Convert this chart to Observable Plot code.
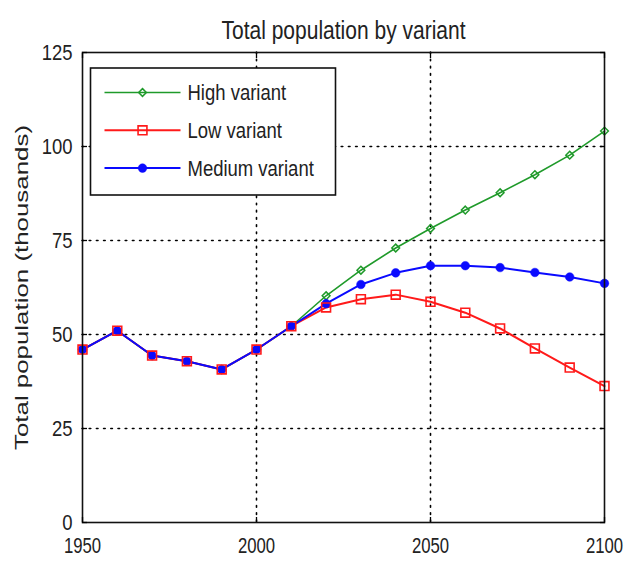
<!DOCTYPE html>
<html>
<head>
<meta charset="utf-8">
<script src="https://cdn.jsdelivr.net/npm/d3@7"></script>
<script src="https://cdn.jsdelivr.net/npm/@observablehq/plot@0.6"></script>
<style>
  html, body { margin: 0; padding: 0; background: #fff; }
</style>
</head>
<body>
<div id="chart"></div>
<script>
// ---- Data ----
const years  = [1950, 1960, 1970, 1980, 1990, 2000, 2010, 2020, 2030, 2040, 2050, 2060, 2070, 2080, 2090, 2100];
const high   = [46, 51, 44.4, 42.9, 40.7, 46, 52.2, 60.3, 67.1, 73.0, 78.2, 83.1, 87.7, 92.5, 97.7, 104.1];
const low    = [46, 51, 44.4, 42.9, 40.7, 46, 52.2, 57.2, 59.4, 60.6, 58.7, 55.8, 51.6, 46.3, 41.2, 36.3];
const medium = [46, 51, 44.4, 42.9, 40.7, 46, 52.2, 58.2, 63.3, 66.4, 68.3, 68.3, 67.8, 66.5, 65.3, 63.6];

const seriesNames = ["High variant", "Low variant", "Medium variant"];
const xTicks = [1950, 2000, 2050, 2100];
const yTicks = [0, 25, 50, 75, 100, 125];
const xGrid = [2000, 2050];
const yGrid = [25, 50, 75, 100];
const titleText = "Total population by variant";
const yLabelText = "Total population (thousands)";

const GREEN = "#1f9a2a", RED = "#ff1a1a", BLUE = "#0a0aff";

const rows = (name, vals) => years.map((year, i) => ({variant: name, year, value: vals[i]}));
const highRows = rows(seriesNames[0], high);
const lowRows = rows(seriesNames[1], low);
const medRows = rows(seriesNames[2], medium);

const FONT = "'Liberation Sans', Arial, sans-serif";
const dotted = {stroke: "#000", strokeWidth: 1.6, strokeDasharray: "1.6,5.6", strokeLinecap: "round"};
const tickOpts = {tickSize: -5, fill: "none", stroke: "#000", strokeWidth: 1.3, label: null};

const chart = Plot.plot({
  width: 624,
  height: 563,
  marginLeft: 82,
  marginRight: 20,
  marginTop: 52,
  marginBottom: 41,
  style: {fontFamily: FONT, fontSize: "22px", background: "white", color: "#222", overflow: "visible"},
  x: {domain: [1950, 2100]},
  y: {domain: [0, 125]},
  marks: [
    Plot.ruleX(xGrid, dotted),
    Plot.ruleY(yGrid, dotted),
    Plot.lineY(highRows, {x: "year", y: "value", stroke: GREEN, strokeWidth: 1.6}),
    Plot.lineY(lowRows, {x: "year", y: "value", stroke: RED, strokeWidth: 2}),
    Plot.lineY(medRows, {x: "year", y: "value", stroke: BLUE, strokeWidth: 2}),
    Plot.dot(highRows, {x: "year", y: "value", symbol: "diamond2", r: 3.5, stroke: GREEN, fill: "none", strokeWidth: 1.5}),
    Plot.dot(medRows, {x: "year", y: "value", symbol: "circle", r: 4.3, fill: BLUE, stroke: BLUE, strokeWidth: 0.5}),
    Plot.dot(lowRows, {x: "year", y: "value", symbol: "square", r: 5, stroke: RED, fill: "none", strokeWidth: 1.6}),
    Plot.frame({stroke: "#111", strokeWidth: 1.6}),
    // tick labels
    Plot.axisX(xTicks, {tickSize: 0, tickPadding: 15, label: null, tickFormat: d => String(d), fill: "#222"}),
    Plot.axisY(yTicks, {tickSize: 0, tickPadding: 10, label: null, fill: "#222"}),
    // inward ticks on all four sides
    Plot.axisX(xTicks, {...tickOpts, anchor: "bottom"}),
    Plot.axisX(xTicks, {...tickOpts, anchor: "top"}),
    Plot.axisY(yTicks, {...tickOpts, anchor: "left"}),
    Plot.axisY(yTicks, {...tickOpts, anchor: "right"}),
    // title and y label
    Plot.text([titleText], {frameAnchor: "top", dy: -31, fontSize: 25, fill: "#222", text: d => d}),
    Plot.text([yLabelText], {frameAnchor: "left", dx: -61, rotate: -90, fontSize: 19, fill: "#222", textAnchor: "middle", text: d => d})
  ]
});

document.getElementById("chart").appendChild(chart);

// ---- Legend (drawn on the same SVG) ----
const svg = d3.select(chart);
const lg = svg.append("g").attr("transform", "translate(90.5,68)");
lg.append("rect").attr("width", 245).attr("height", 127)
  .attr("fill", "white").attr("stroke", "#111").attr("stroke-width", 1.6);
const legendItems = [
  {name: seriesNames[0], color: GREEN, symbol: d3.symbolDiamond2, size: Math.PI * 3.5 * 3.5, fill: "none", sw: 1.5, lw: 1.6},
  {name: seriesNames[1], color: RED, symbol: d3.symbolSquare, size: Math.PI * 5 * 5, fill: "none", sw: 1.6, lw: 2},
  {name: seriesNames[2], color: BLUE, symbol: d3.symbolCircle, size: Math.PI * 4.3 * 4.3, fill: BLUE, sw: 0.5, lw: 2}
];
legendItems.forEach((it, i) => {
  const cy = 24.5 + i * 37.8;
  const g = lg.append("g").attr("transform", `translate(0,${cy})`);
  g.append("line").attr("x1", 14).attr("x2", 90).attr("y1", 0).attr("y2", 0)
    .attr("stroke", it.color).attr("stroke-width", it.lw);
  g.append("path").attr("transform", "translate(52,0)")
    .attr("d", d3.symbol(it.symbol, it.size)())
    .attr("fill", it.fill).attr("stroke", it.color).attr("stroke-width", it.sw);
  g.append("text").attr("x", 97).attr("y", 0).attr("dy", "0.36em")
    .attr("text-anchor", "start")
    .attr("font-family", FONT).attr("font-size", 22).attr("fill", "#222")
    .text(it.name);
});

// condense text horizontally (the reference uses a narrow face); stretch the y label
svg.selectAll("text").each(function() {
  const t = d3.select(this);
  if (this.textContent === yLabelText) {
    t.attr("textLength", 325).attr("lengthAdjust", "spacingAndGlyphs");
  } else {
    const w = this.getComputedTextLength();
    const isYear = /^\d{4}$/.test(this.textContent);
    if (w > 0) t.attr("textLength", (w * (isYear ? 0.76 : 0.84)).toFixed(1)).attr("lengthAdjust", "spacingAndGlyphs");
    if (this.textContent === String(xTicks[xTicks.length - 1])) {
      // keep the last year label inside the page: anchor it at its right end
      const half = (w * 0.76) / 2;
      t.attr("text-anchor", "end").attr("transform", (t.attr("transform") || "") + ` translate(${half.toFixed(1)},0)`);
    }
  }
});
</script>
</body>
</html>
